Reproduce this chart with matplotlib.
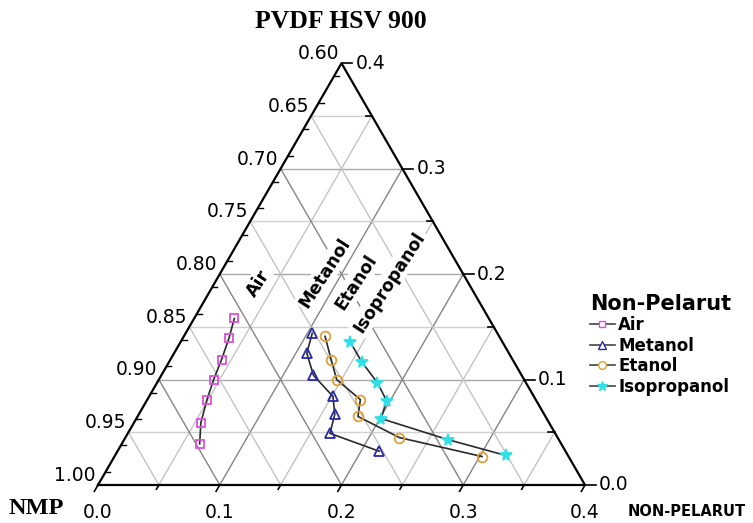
import numpy as np
import matplotlib.pyplot as plt
from matplotlib.lines import Line2D

# ternary data: non-solvent fraction and PVDF fraction (NMP = 1 - both)
air_ns = [0.033, 0.038, 0.042, 0.045, 0.049, 0.055, 0.064]
air_pvdf = [0.158, 0.139, 0.119, 0.100, 0.081, 0.059, 0.039]

metanol_ns = [0.104, 0.109, 0.125, 0.151, 0.161, 0.166, 0.215]
metanol_pvdf = [0.144, 0.125, 0.104, 0.084, 0.067, 0.049, 0.032]

etanol_ns = [0.116, 0.132, 0.146, 0.175, 0.181, 0.225, 0.302]
etanol_pvdf = [0.141, 0.119, 0.100, 0.081, 0.065, 0.045, 0.027]

iso_ns = [0.139, 0.158, 0.181, 0.197, 0.201, 0.266, 0.321]
iso_pvdf = [0.136, 0.117, 0.097, 0.080, 0.063, 0.043, 0.028]

bottom_ticks = [0.0, 0.1, 0.2, 0.3, 0.4]
right_ticks = [0.0, 0.1, 0.2, 0.3, 0.4]
left_ticks = [0.60, 0.65, 0.70, 0.75, 0.80, 0.85, 0.90, 0.95, 1.00]

SIDE = 0.4
H = np.sqrt(3) / 2


def tern(ns, p):
    ns = np.asarray(ns, dtype=float)
    p = np.asarray(p, dtype=float)
    return ns + p / 2, p * H


fig = plt.figure(figsize=(7.53, 5.23), dpi=100)
ax = fig.add_axes([0, 0, 1, 1])
ax.set_xlim(-98 / 1217.5, 655 / 1217.5)
ax.set_ylim(-38 / 1217.5, 485 / 1217.5)
ax.axis('off')

# grid
for v in np.arange(0.05, SIDE, 0.05):
    major = abs(v * 10 - round(v * 10)) < 1e-6
    c = '#858585' if major else '#c4c4c4'
    # constant PVDF
    x, y = tern([0, SIDE - v], [v, v])
    ax.plot(x, y, color='#a8a8a8' if major else '#d0d0d0', lw=1.0, zorder=1)
    # constant non-solvent
    x, y = tern([v, v], [0, SIDE - v])
    ax.plot(x, y, color=c, lw=1.0, zorder=1)
    # constant NMP
    x, y = tern([0, v], [v, 0])
    ax.plot(x, y, color=c, lw=1.0, zorder=1)

# frame
x, y = tern([0, SIDE, 0, 0], [0, 0, SIDE, 0])
ax.plot(x, y, color='black', lw=1.6, zorder=3)

tick_font = dict(family='DejaVu Sans', fontsize=13.5)

# bottom axis (non-solvent)
for v in np.arange(0, SIDE + 0.001, 0.05):
    x0, y0 = tern(v, 0)
    L = 0.006 if abs(v * 10 - round(v * 10)) < 1e-6 else 0.004
    ax.plot([x0, x0 - L * 0.5], [y0, y0 - L * H], color='black', lw=1.2, zorder=3)
for v in bottom_ticks:
    x0, y0 = tern(v, 0)
    ax.annotate(f'{v:.1f}', (x0, y0), xytext=(0, -13), textcoords='offset points',
                ha='center', va='top', **tick_font)

# right axis (PVDF)
for v in np.arange(0.05, SIDE, 0.1):
    x0, y0 = tern(SIDE - v, v)
    ax.plot([x0, x0 - 0.005], [y0, y0], color='black', lw=1.2, zorder=3)
for v in right_ticks:
    x0, y0 = tern(SIDE - v, v)
    ax.plot([x0, x0 + 0.009], [y0, y0], color='black', lw=1.2, zorder=3)
    ax.annotate(f'{v:.1f}', (x0, y0), xytext=(10, 0), textcoords='offset points',
                ha='left', va='center', **tick_font)

# left axis (NMP)
for v in np.arange(0.0125, SIDE, 0.025):
    x0, y0 = tern(0, v)
    ax.plot([x0, x0 + 0.004], [y0, y0], color='black', lw=1.0, zorder=3)
for v in left_ticks:
    x0, y0 = tern(0, 1 - v)
    ax.annotate(f'{v:.2f}', (x0, y0), xytext=(-1.5, 3), textcoords='offset points',
                ha='right', va='baseline', **tick_font)

# series
series = [
    ('Air', air_ns, air_pvdf, 's', '#dd4fdd', 'none', 6),
    ('Metanol', metanol_ns, metanol_pvdf, '^', '#2a2aa8', 'none', 7),
    ('Etanol', etanol_ns, etanol_pvdf, 'o', '#e0a035', 'none', 7),
    ('Isopropanol', iso_ns, iso_pvdf, '*', '#2ee0e6', '#2ee0e6', 8.5),
]
handles = []
for name, ns, p, m, col, fc, ms in series:
    x, y = tern(ns, p)
    ax.plot(x, y, color='#2a2a2a', lw=1.2, zorder=4)
    ax.plot(x, y, ls='none', marker=m, ms=ms, mec=col, mfc=fc, mew=1.3, zorder=5)
    handles.append(Line2D([], [], color='#444444', lw=1.2, marker=m, ms=ms - 1.5,
                          mec=col, mfc=fc if fc != 'none' else 'white', mew=1.0,
                          label=name))

# region labels
region_labels = [('Air', 0.036, 0.191), ('Metanol', 0.086, 0.201),
                 ('Etanol', 0.116, 0.192), ('Isopropanol', 0.143, 0.1925)]
for txt, ns, p in region_labels:
    x0, y0 = tern(ns, p)
    ax.text(x0, y0, txt, rotation=57, rotation_mode='anchor', ha='center',
            va='center', fontsize=12.5, fontweight='bold', family='DejaVu Sans',
            zorder=6, bbox=dict(fc='white', ec='none', pad=1.5))

fig.text(341 / 753, 1 - 22 / 523, 'PVDF HSV 900', ha='center', va='center',
         family='Liberation Serif', fontweight='bold', fontsize=18.5)
fig.text(9 / 753, 1 - 508 / 523, 'NMP', ha='left', va='center',
         family='Liberation Serif', fontweight='bold', fontsize=17.5)
fig.text(628 / 753, 1 - 512 / 523, 'NON-PELARUT', ha='left', va='center',
         family='DejaVu Sans', fontweight='bold', fontsize=10.5)

leg = ax.legend(handles=handles, loc='upper left',
                bbox_to_anchor=(578 / 753, 1 - 282 / 523),
                bbox_transform=fig.transFigure, frameon=False,
                title='Non-Pelarut', handlelength=1.5, handletextpad=0.2,
                labelspacing=0.15, borderpad=0.2,
                prop=dict(family='DejaVu Sans', weight='bold', size=12),
                title_fontproperties=dict(family='DejaVu Sans', weight='bold', size=15))
leg._legend_box.align = 'left'

fig.savefig('out.png', dpi=100)
